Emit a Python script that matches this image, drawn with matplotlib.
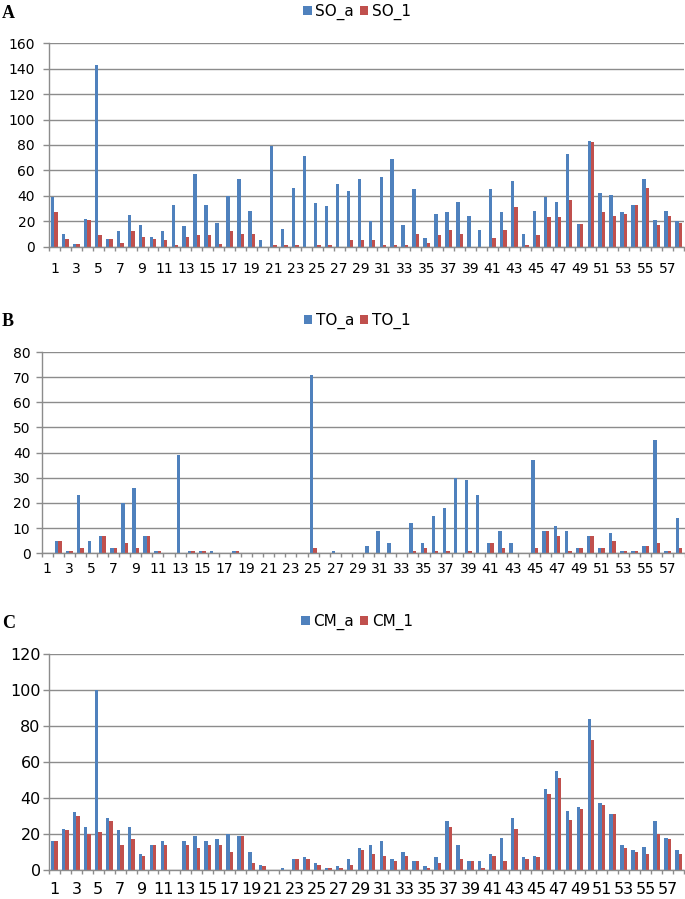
import matplotlib
matplotlib.use("Agg")
import matplotlib.pyplot as plt
import numpy as np

categories = list(range(1, 59))

SO_a = [39, 10, 2, 22, 143, 6, 12, 25, 17, 8, 12, 33, 16, 57, 33, 19, 40, 53, 28, 5,
        79, 14, 46, 71, 34, 32, 49, 44, 53, 20, 55, 69, 17, 45, 7, 26, 27, 35, 24, 13,
        45, 27, 52, 10, 28, 39, 35, 73, 18, 83, 42, 41, 27, 33, 53, 21, 28, 20]
SO_1 = [27, 6, 2, 21, 9, 6, 3, 12, 8, 6, 5, 1, 8, 9, 9, 2, 12, 10, 10, 0,
        1, 1, 1, 0, 1, 1, 0, 5, 5, 5, 1, 1, 1, 10, 3, 9, 13, 10, 0, 0,
        7, 13, 31, 1, 9, 23, 23, 37, 18, 82, 27, 24, 26, 33, 46, 17, 24, 19]

TO_a = [0, 5, 1, 23, 5, 7, 2, 20, 26, 7, 1, 0, 39, 1, 1, 1, 0, 1, 0, 0,
        0, 0, 0, 0, 71, 0, 1, 0, 0, 3, 9, 4, 0, 12, 4, 15, 18, 30, 29, 23,
        4, 9, 4, 0, 37, 9, 11, 9, 2, 7, 2, 8, 1, 1, 3, 45, 1, 14]
TO_1 = [0, 5, 1, 2, 0, 7, 2, 4, 2, 7, 1, 0, 0, 1, 1, 0, 0, 1, 0, 0,
        0, 0, 0, 0, 2, 0, 0, 0, 0, 0, 0, 0, 0, 1, 2, 1, 1, 0, 1, 0,
        4, 2, 0, 0, 2, 9, 7, 1, 2, 7, 2, 5, 1, 1, 3, 4, 1, 2]

CM_a = [16, 23, 32, 24, 100, 29, 22, 24, 9, 14, 16, 0, 16, 19, 16, 17, 20, 19, 10, 3,
        0, 1, 6, 7, 4, 1, 2, 6, 12, 14, 16, 6, 10, 5, 2, 7, 27, 14, 5, 5,
        9, 18, 29, 7, 8, 45, 55, 33, 35, 84, 37, 31, 14, 11, 13, 27, 18, 11]
CM_1 = [16, 22, 30, 20, 21, 27, 14, 17, 8, 14, 14, 0, 14, 12, 14, 14, 10, 19, 4, 2,
        0, 0, 6, 6, 3, 1, 1, 3, 11, 9, 8, 5, 8, 5, 1, 4, 24, 6, 5, 1,
        8, 5, 23, 6, 7, 42, 51, 28, 34, 72, 36, 31, 12, 10, 9, 20, 17, 9]

tick_labels = [str(c) if c % 2 == 1 else "" for c in categories]

BLUE = "#4F81BD"
RED = "#C0504D"
GRID = "#8C8C8C"

W, H = 685, 899
fig = plt.figure(figsize=(W / 100, H / 100), dpi=100)

panels = [
    ("A", SO_a, SO_1, ("SO_a", "SO_1"), 160, 20, (49, 684, 43.3, 246.7), 10, 6, 11, 14, 12),
    ("B", TO_a, TO_1, ("TO_a", "TO_1"), 80, 10, (41.5, 684.5, 352, 553.3), 10, 4, 6, 321.5, 321),
    ("C", CM_a, CM_1, ("CM_a", "CM_1"), 120, 20, (49, 684, 654, 870), 11.5, 2, 8.5, 623, 622),
]

x = np.array(categories, dtype=float)
bw = 0.31

for letter, sa, s1, labs, ymax, ystep, (l, r, t, b), fs, ypad, xpad, ly, legy in panels:
    ax = fig.add_axes([l / W, 1 - b / H, (r - l) / W, (b - t) / H])
    h1 = ax.bar(x - bw / 2, sa, width=bw, color=BLUE, linewidth=0, label=labs[0])
    h2 = ax.bar(x + bw / 2, s1, width=bw, color=RED, linewidth=0, label=labs[1])
    ax.set_xlim(0.5, 58.5)
    ax.set_ylim(0, ymax)
    ax.set_yticks(np.arange(0, ymax + 1, ystep))
    ax.yaxis.grid(True, color=GRID, linewidth=1.0)
    ax.set_axisbelow(True)
    for s in ("top", "right"):
        ax.spines[s].set_visible(False)
    for s in ("left", "bottom"):
        ax.spines[s].set_color(GRID)
        ax.spines[s].set_linewidth(1.0)
    ax.set_xticks(x)
    ax.set_xticklabels(tick_labels)
    ax.set_xticks(np.arange(0.5, 59, 1.0), minor=True)
    ax.tick_params(axis="x", which="major", length=0, pad=xpad, labelsize=fs,
                   labelcolor="black")
    ax.tick_params(axis="x", which="minor", length=3, width=1.0, color=GRID,
                   direction="out")
    ax.tick_params(axis="y", which="major", length=4, width=1.0, color=GRID,
                   pad=ypad, labelsize=fs, labelcolor="black")
    for lab in ax.get_xticklabels() + ax.get_yticklabels():
        lab.set_fontfamily("DejaVu Sans")
    ax.legend(handles=[h1, h2], labels=list(labs), loc="center",
              bbox_to_anchor=(357 / W, 1 - legy / H), bbox_transform=fig.transFigure,
              ncol=2, frameon=False, fontsize=11, handlelength=0.55,
              handleheight=0.55, handletextpad=0.25, columnspacing=0.35,
              borderpad=0, borderaxespad=0)
    fig.text(2 / W, 1 - ly / H, letter, ha="left", va="center",
             fontfamily="Liberation Serif", fontweight="bold", fontsize=13)

fig.savefig("out.png", dpi=100)
